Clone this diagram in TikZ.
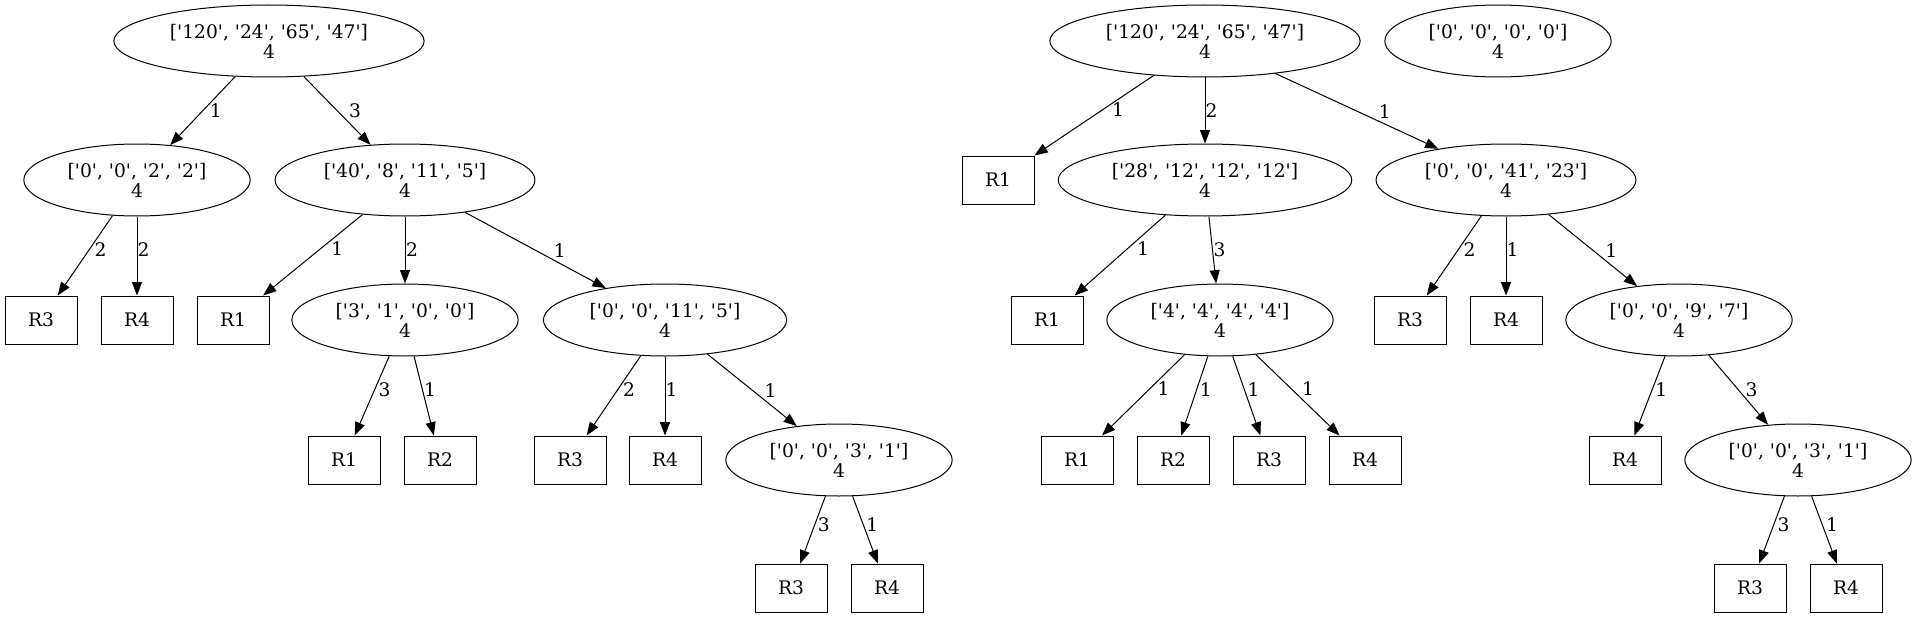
\documentclass[tikz,border=0pt]{standalone}
\usepackage{fontspec}
\newfontfamily\gvfont{DejaVu Serif}
\usetikzlibrary{arrows.meta, shapes.geometric}

\tikzset{
    st/.style={ellipse, draw, align=center, inner xsep=8pt, inner ysep=0pt, minimum height=54pt},
    res/.style={rectangle, draw, minimum width=54pt, minimum height=36pt},
    lbl/.style={right, inner sep=0pt, pos=.5},
    lblb/.style={lbl, pos=.42}
}

\begin{document}
\begin{tikzpicture}[x=0.75pt, y=-0.75pt, line width=0.75pt, font=\gvfont\fontsize{14}{15}\selectfont, >={Triangle[length=10pt, width=7.5pt]}]
    \useasboundingbox (0, 0) rectangle (1917, 617);

    % left tree
    \node[st] (lroot) at (269, 41) {['120', '24', '65', '47']\\4};
    \node[st] (l0022) at (137, 180) {['0', '0', '2', '2']\\4};
    \node[st] (l40811) at (405, 180) {['40', '8', '11', '5']\\4};
    \node[res] (lr3a) at (41, 320) {R3};
    \node[res] (lr4a) at (137, 320) {R4};
    \node[res] (lr1a) at (233, 320) {R1};
    \node[st] (l3100) at (405, 320) {['3', '1', '0', '0']\\4};
    \node[st] (l00115) at (665, 320) {['0', '0', '11', '5']\\4};
    \node[res] (lr1b) at (344, 460) {R1};
    \node[res] (lr2b) at (440, 460) {R2};
    \node[res] (lr3b) at (570, 460) {R3};
    \node[res] (lr4b) at (665, 460) {R4};
    \node[st] (l0031) at (839, 460) {['0', '0', '3', '1']\\4};
    \node[res] (lr3c) at (791, 588) {R3};
    \node[res] (lr4c) at (887, 588) {R4};

    % right tree
    \node[st] (rroot) at (1205, 41) {['120', '24', '65', '47']\\4};
    \node[st] (r0000) at (1498, 41) {['0', '0', '0', '0']\\4};
    \node[res] (rr1a) at (998, 180) {R1};
    \node[st] (r28) at (1205, 180) {['28', '12', '12', '12']\\4};
    \node[st] (r004123) at (1506, 180) {['0', '0', '41', '23']\\4};
    \node[res] (rr1b) at (1047, 320) {R1};
    \node[st] (r4444) at (1220, 320) {['4', '4', '4', '4']\\4};
    \node[res] (rr3b) at (1410, 320) {R3};
    \node[res] (rr4b) at (1506, 320) {R4};
    \node[st] (r0097) at (1679, 320) {['0', '0', '9', '7']\\4};
    \node[res] (rr1c) at (1077, 460) {R1};
    \node[res] (rr2c) at (1173, 460) {R2};
    \node[res] (rr3c) at (1269, 460) {R3};
    \node[res] (rr4c) at (1365, 460) {R4};
    \node[res] (rr4d) at (1625, 460) {R4};
    \node[st] (r0031) at (1798, 460) {['0', '0', '3', '1']\\4};
    \node[res] (rr3e) at (1750, 588) {R3};
    \node[res] (rr4e) at (1846, 588) {R4};

    \draw
    (lroot) edge[->] node[lbl, xshift=5pt] {1} (l0022)
    (lroot) edge[->] node[lbl, xshift=8.5pt] {3} (l40811)
    (l0022) edge[->] node[lblb, xshift=3.5pt] {2} (lr3a)
    (l0022) edge[->] node[lblb] {2} (lr4a)
    (l40811) edge[->] node[lblb, xshift=7.5pt] {1} (lr1a)
    (l40811) edge[->] node[lbl, xshift=0.5pt] {2} (l3100)
    (l40811) edge[->] node[lbl, xshift=13.5pt] {1} (l00115)
    (l3100) edge[->] node[lblb, xshift=2.5pt] {3} (lr1b)
    (l3100) edge[->] node[lblb, xshift=1pt] {1} (lr2b)
    (l00115) edge[->] node[lblb, xshift=3.5pt] {2} (lr3b)
    (l00115) edge[->] node[lblb] {1} (lr4b)
    (l00115) edge[->] node[lbl, xshift=9pt] {1} (l0031)
    (l0031) edge[->] node[lblb, xshift=2pt] {3} (lr3c)
    (l0031) edge[->] node[lblb, xshift=2pt] {1} (lr4c);

    \draw
    (rroot) edge[->] node[lblb, xshift=6pt] {1} (rr1a)
    (rroot) edge[->] node[lbl] {2} (r28)
    (rroot) edge[->] node[lbl, xshift=16pt] {1} (r004123)
    (r28) edge[->] node[lblb, xshift=7pt] {1} (rr1b)
    (r28) edge[->] node[lbl, xshift=0.5pt] {3} (r4444)
    (r004123) edge[->] node[lblb, xshift=3.5pt] {2} (rr3b)
    (r004123) edge[->] node[lblb] {1} (rr4b)
    (r004123) edge[->] node[lbl, xshift=9pt] {1} (r0097)
    (r4444) edge[->] node[lblb, xshift=5.5pt] {1} (rr1c)
    (r4444) edge[->] node[lblb, xshift=2pt] {1} (rr2c)
    (r4444) edge[->] node[lblb, xshift=2pt] {1} (rr3c)
    (r4444) edge[->] node[lblb, xshift=8pt] {1} (rr4c)
    (r0097) edge[->] node[lblb, xshift=2pt] {1} (rr4d)
    (r0097) edge[->] node[lbl, xshift=5pt] {3} (r0031)
    (r0031) edge[->] node[lblb, xshift=2.5pt] {3} (rr3e)
    (r0031) edge[->] node[lblb, xshift=2.5pt] {1} (rr4e);
\end{tikzpicture}
\end{document}
